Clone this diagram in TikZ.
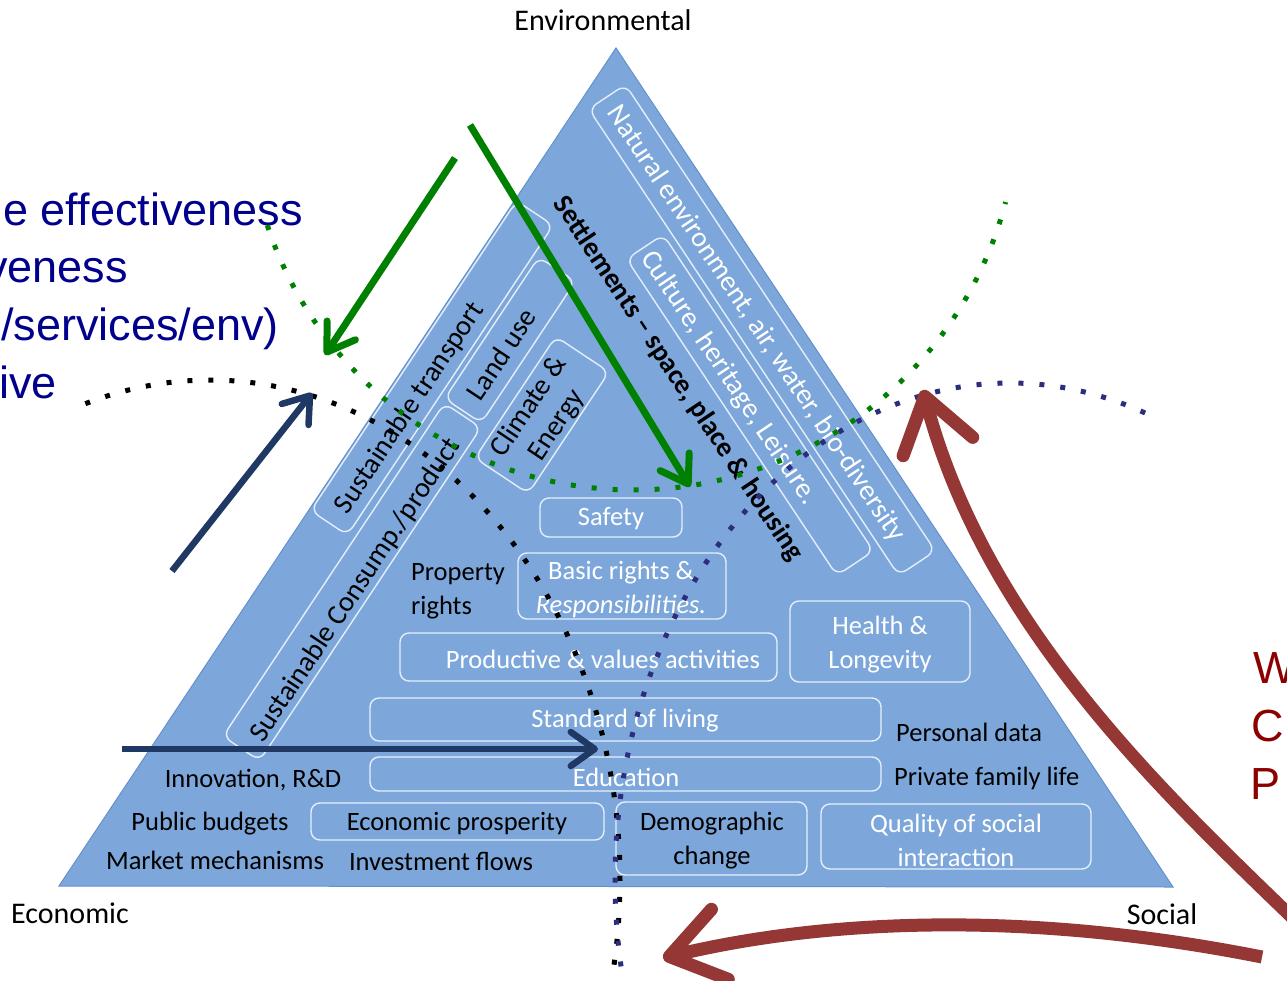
\documentclass[tikz,border=0pt]{standalone}
\usepackage{fontspec}
\setmainfont{Carlito}
\newfontfamily\arialf{Liberation Sans}
\usetikzlibrary{arrows.meta}
\definecolor{tri}{RGB}{125,167,218}
\definecolor{triedge}{RGB}{100,145,205}
\definecolor{boxline}{RGB}{228,238,250}
\definecolor{arrgreen}{RGB}{0,128,0}
\definecolor{arrnavy}{RGB}{31,56,100}
\definecolor{arrred}{RGB}{149,55,53}
\definecolor{dotnavy}{RGB}{45,45,125}
\definecolor{dotgreen}{RGB}{0,128,0}
\definecolor{txtblue}{RGB}{0,0,140}
\definecolor{txtred}{RGB}{140,0,0}
\begin{document}
\begin{tikzpicture}[x=1pt,y=-1pt,
  rbox/.style={draw=boxline, line width=1.4pt, rounded corners=9pt, rectangle, inner sep=0pt},
  itxt/.style={font=\fontsize{26.5}{34}\selectfont, inner sep=0pt, align=center},
  rtxt/.style={font=\fontsize{28.5}{33}\selectfont, inner sep=0pt, align=center},
  wtxt/.style={itxt, text=white},
  ktxt/.style={itxt, text=black},
  lbl/.style={font=\fontsize{30}{36}\selectfont, inner sep=0pt, text=black},
  bluetxt/.style={font=\arialf\fontsize{45}{54}\selectfont, inner sep=0pt, text=txtblue, anchor=base east},
  redtxt/.style={font=\arialf\fontsize{45}{54}\selectfont, inner sep=0pt, text=txtred, anchor=base west},
  dots/.style={line width=5pt, dash pattern=on 5pt off 16pt},
  garrow/.style={draw=arrgreen, line width=7pt, -{Straight Barb[round, length=26pt, width=34pt]}},
  narrow/.style={draw=arrnavy, line width=6.5pt, -{Straight Barb[round, length=24pt, width=34pt]}},
  rarrow/.style={draw=arrred, line width=13pt, -{Straight Barb[round, length=52pt, width=72pt]}}
]
\useasboundingbox (0,0) rectangle (1287,981);
\clip (0,0) rectangle (1287,981);
\fill[white] (0,0) rectangle (1287,981);

% triangle
\coordinate (top) at (616,48);
\coordinate (bl) at (59,886);
\coordinate (br) at (1173,887);
\filldraw[fill=tri, draw=triedge, line width=1pt] (top) -- (bl) -- (br) -- cycle;

% corner labels
\node[lbl] (env) at (603,20) {Environmental};
\node[lbl] (econ) at (70,913) {Economic};
\node[lbl] (soc) at (1162,914) {Social};

% left-edge boxes
\node[rbox, rotate=56.4, minimum width=372pt, minimum height=44pt] (transbox) at (432,368) {};
\node[rbox, rotate=56.4, minimum width=170pt, minimum height=44pt] (landbox) at (510,340) {};
\node[rbox, rotate=56.4, minimum width=400pt, minimum height=44pt] (consbox) at (352,582) {};
\node[rbox, rotate=56.4, minimum width=146pt, minimum height=64pt] (climbox) at (542,415) {};
% right-edge boxes
\node[rbox, rotate=-56.4, minimum width=560pt, minimum height=44pt] (natbox) at (762,330) {};
\node[rbox, rotate=-56.4, minimum width=380pt, minimum height=44pt] (cultbox) at (750,405) {};
% horizontal boxes
\node[rbox, minimum width=142pt, minimum height=39pt] (safebox) at (611,517.5) {};
\node[rbox, minimum width=208pt, minimum height=66pt] (rightsbox) at (622,586) {};
\node[rbox, minimum width=377pt, minimum height=48pt] (prodbox) at (588.5,657) {};
\node[rbox, minimum width=180pt, minimum height=81pt] (healthbox) at (880,641.5) {};
\node[rbox, minimum width=511pt, minimum height=43pt] (stdbox) at (625.5,719.5) {};
\node[rbox, minimum width=511pt, minimum height=34pt] (edubox) at (625.5,774) {};
\node[rbox, minimum width=293pt, minimum height=37pt] (prosbox) at (457.5,821.5) {};
\node[rbox, minimum width=191pt, minimum height=73pt] (demobox) at (711.5,838.5) {};
\node[rbox, minimum width=270pt, minimum height=65pt] (qualbox) at (956,836.5) {};

% rotated texts
\node[rtxt, text=black, rotate=56.4] (trans) at (410,408) {Sustainable transport};
\node[rtxt, text=black, rotate=56.4] (land) at (501,354) {Land use};
\node[rtxt, text=black, rotate=56.4] (clim) at (543,416) {Climate \&\\Energy};
\node[rtxt, text=black, rotate=56.4] (cons) at (356,590) {Sustainable Consump./product};
\node[rtxt, text=white, rotate=-56.4] (nat) at (756,324) {Natural environment, air, water, bio-diversity};
\node[rtxt, text=white, rotate=-56.4] (cult) at (729,378) {Culture, heritage, Leisure.};
\node[rtxt, text=black, rotate=-56.4, font=\fontsize{28}{33}\selectfont\bfseries] (settle) at (678,379) {Settlements -- space, place \& housing};

% horizontal texts
\node[wtxt] (safe) at (611,519) {Safety};
\node[wtxt] (rights) at (621,589) {Basic rights \&\\\textit{Responsibilities.}};
\node[ktxt, align=left, anchor=west] (prop) at (411,591) {Property\\rights};
\node[wtxt] (prod) at (603,659) {Productive \& values activities};
\node[wtxt] (health) at (880,645) {Health \&\\Longevity};
\node[wtxt] (std) at (625,721) {Standard of living};
\node[ktxt, anchor=west] (pers) at (896,732) {Personal data};
\node[wtxt] (edu) at (626,777) {Education};
\node[ktxt, anchor=west] (priv) at (894,778) {Private family life};
\node[ktxt] (innov) at (253,780) {Innovation, R\&D};
\node[ktxt] (pub) at (210,824) {Public budgets};
\node[ktxt] (mark) at (215,860) {Market mechanisms};
\node[ktxt] (pros) at (457,824) {Economic prosperity};
\node[ktxt] (inv) at (441,861) {Investment flows};
\node[ktxt] (demo) at (712,841) {Demographic\\change};
\node[wtxt] (qual) at (956,840) {Quality of social\\interaction};

% outside texts
\node[bluetxt] (b1) at (303,226) {e effectiveness};
\node[bluetxt] (b2) at (128,283) {veness};
\node[bluetxt, anchor=base west] (b3) at (1,341) {/services/env)};
\node[bluetxt] (b4) at (57,398) {ive};
\node[redtxt] (w1) at (1253,683) {W};
\node[redtxt] (w2) at (1251,741) {C};
\node[redtxt] (w3) at (1250,799) {P};

% dotted arcs
\draw[dots, black] plot[domain=-107.7:11, samples=120] ({210+410*cos(\x)},{880+500*sin(\x)});
\draw[dots, dotnavy] plot[domain=-70:-191.7, samples=120] ({1010+395*cos(\x)},{880+497*sin(\x)});
\draw[dots, dotgreen] plot[domain=161.8:14.6, samples=120] ({633+385*cos(\x)},{105+385*sin(\x)});

% arrows
\coordinate (g1s) at (455,158); \coordinate (g1e) at (325,355);
\coordinate (g2s) at (470,125); \coordinate (g2e) at (690,487);
\coordinate (n1s) at (172,571); \coordinate (n1e) at (312,393);
\coordinate (n2s) at (122,749); \coordinate (n2e) at (598,749);
\coordinate (r1s) at (1300,925); \coordinate (r1e) at (923,390);
\coordinate (r2s) at (1262,957); \coordinate (r2e) at (663,958);
\draw[garrow] (g1s) -- (g1e);
\draw[garrow] (g2s) -- (g2e);
\draw[narrow] (n1s) -- (n1e);
\draw[narrow] (n2s) -- (n2e);
\draw[rarrow] (r1s) .. controls (1160,790) and (985,625) .. (r1e);
\draw[rarrow] (r2s) .. controls (1000,905) and (800,925) .. (r2e);
\end{tikzpicture}
\end{document}
